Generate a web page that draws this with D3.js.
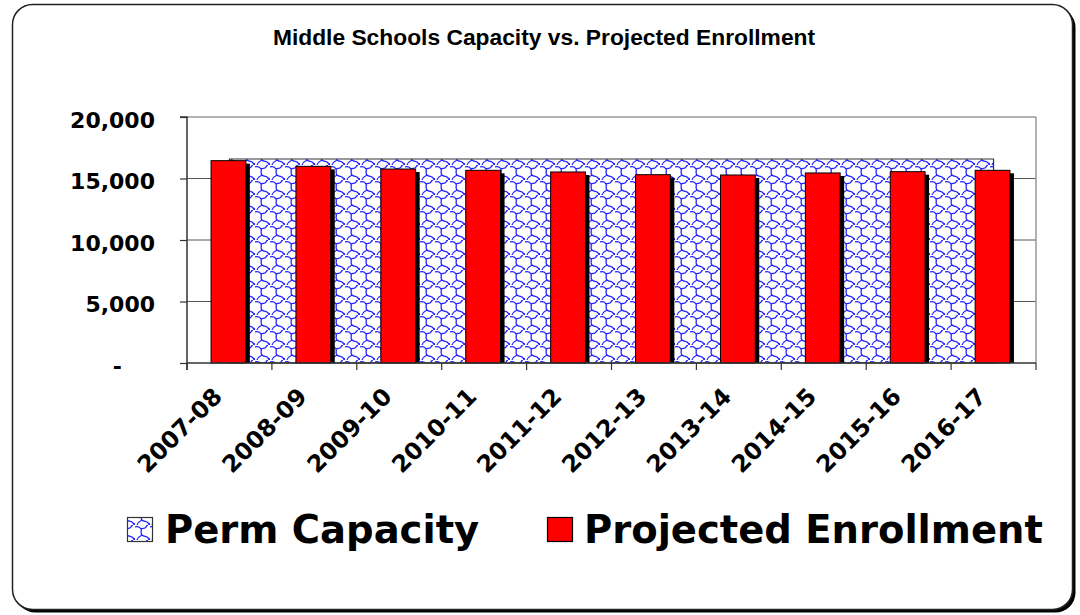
<!DOCTYPE html>
<html><head><meta charset="utf-8">
<script src="https://cdn.jsdelivr.net/npm/d3@7/dist/d3.min.js"></script>
<style>
html,body{margin:0;padding:0;background:#fff;}
svg{display:block;}
</style></head>
<body>
<svg id="chart" width="1080" height="615"></svg>
<script>
const categories = ["2007-08","2008-09","2009-10","2010-11","2011-12","2012-13","2013-14","2014-15","2015-16","2016-17"];
const permCapacity = [16585,16585,16585,16585,16585,16585,16585,16585,16585,16585];
const projectedEnrollment = [16450,15990,15770,15665,15530,15310,15285,15450,15555,15665];
const yTickValues = [0,5000,10000,15000,20000];
const yTickLabels = ["-","5,000","10,000","15,000","20,000"];
const seriesNames = ["Perm Capacity","Projected Enrollment"];
const titleText = "Middle Schools Capacity vs. Projected Enrollment";

const svg = d3.select("#chart");
const defs = svg.append("defs");

// shingle-like pattern
const pat = defs.append("pattern").attr("id","shingle").attr("patternUnits","userSpaceOnUse")
  .attr("width",15).attr("height",15);
pat.append("rect").attr("width",15).attr("height",15).attr("fill","#fff");
pat.append("path")
  .attr("d","M0,2 C3,1 5,2 6,4 C7,6 5,8 7,10 C9,12 12,11 13,13 C14,14 15,14 15,14 M6,4 C8,3 10,4 11,2 C11.5,1 12,0 13,0 M7,10 C5,11 3,12 2,15 M13,13 C14,15 15,15 15,15")
  .attr("fill","none").attr("stroke","#2222ff").attr("stroke-width",1.3);

// Frame with shadow
svg.append("rect").attr("x",15.5).attr("y",7.5).attr("width",1060).attr("height",605)
  .attr("rx",20).attr("fill","#000");
svg.append("rect").attr("x",12.5).attr("y",4.5).attr("width",1060).attr("height",605)
  .attr("rx",20).attr("fill","#fff").attr("stroke","#222").attr("stroke-width",1.5);

// Title
svg.append("text").attr("x",544).attr("y",45).attr("text-anchor","middle")
  .attr("font-family","Liberation Sans, Arial, sans-serif").attr("font-weight","bold")
  .attr("font-size",22.8).attr("fill","#000").text(titleText);

const L = 187, R = 1036, T = 117, B = 363;
const x = d3.scaleBand().domain(categories).range([L,R]).padding(0);
const y = d3.scaleLinear().domain([0,20000]).range([B,T]);

const g = svg.append("g");

// gridlines
g.selectAll("line.grid").data(yTickValues.filter(v=>v>0 && v<20000)).join("line")
  .attr("x1",L).attr("x2",R).attr("y1",d=>y(d)).attr("y2",d=>y(d))
  .attr("stroke","#555").attr("stroke-width",1);
// plot border top/right
g.append("line").attr("x1",L).attr("x2",R).attr("y1",T).attr("y2",T).attr("stroke","#999").attr("stroke-width",1.5);
g.append("line").attr("x1",R).attr("x2",R).attr("y1",T).attr("y2",B).attr("stroke","#999").attr("stroke-width",1.5);

// capacity area
const cx = c => x(c) + x.bandwidth()/2;
const area = d3.area().x((d,i)=>cx(categories[i])).y0(y(0)).y1(d=>y(d));
g.append("path").datum(permCapacity).attr("d",area)
  .attr("fill","url(#shingle)").attr("stroke","#333").attr("stroke-width",1.2);

// bars
const barW = x.bandwidth()*0.41;
const bx = c => cx(c) - barW/2 - 1;
g.selectAll("rect.shadow").data(projectedEnrollment).join("rect")
  .attr("x",(d,i)=>bx(categories[i])+4).attr("y",d=>y(d)+3)
  .attr("width",barW).attr("height",d=>y(0)-y(d)-3).attr("fill","#000");
g.selectAll("rect.bar").data(projectedEnrollment).join("rect")
  .attr("x",(d,i)=>bx(categories[i])).attr("y",d=>y(d))
  .attr("width",barW).attr("height",d=>y(0)-y(d))
  .attr("fill","#ff0000").attr("stroke","#000").attr("stroke-width",1);

// Y axis
const yAxis = d3.axisLeft(y).tickValues(yTickValues).tickSize(7)
  .tickFormat((d,i)=>yTickLabels[i]);
const ya = svg.append("g").attr("transform",`translate(${L},0)`).call(yAxis);
ya.select(".domain").attr("stroke","#333").attr("stroke-width",1.5).attr("d",`M-7,${T}H0V${B+7}`);
ya.selectAll(".tick line").attr("stroke","#333").attr("stroke-width",1.2);
ya.selectAll(".tick text").attr("font-family","DejaVu Sans, Verdana, sans-serif")
  .attr("font-weight","bold").attr("font-size",22).attr("fill","#000")
  .attr("x",-32).attr("dy","0.46em");
ya.selectAll(".tick text").filter(d=>d===0).attr("x",-65);

// X axis
const xAxis = d3.axisBottom(x).tickSize(0).tickFormat("");
const xa = svg.append("g").attr("transform",`translate(0,${B})`).call(xAxis);
xa.select(".domain").attr("stroke","#333").attr("stroke-width",1.5).attr("d",`M${L},0H${R}`);
xa.selectAll(".btick").data(categories.concat(["__end"])).join("line")
  .attr("x1",(d,i)=> i<categories.length ? x(d) : R)
  .attr("x2",(d,i)=> i<categories.length ? x(d) : R)
  .attr("y1",0).attr("y2",7).attr("stroke","#333").attr("stroke-width",1.2);
xa.selectAll("text.xl").data(categories).join("text")
  .attr("transform",d=>`translate(${cx(d)-6},35) rotate(-45)`)
  .attr("text-anchor","end")
  .attr("font-family","DejaVu Sans, Verdana, sans-serif").attr("font-weight","bold")
  .attr("font-size",23.5).attr("fill","#000").text(d=>d);

// Legend
const lg = svg.append("g");
lg.append("rect").attr("x",127.5).attr("y",517.5).attr("width",25).attr("height",24)
  .attr("fill","url(#shingle)").attr("stroke","#333").attr("stroke-width",1.2);
lg.append("text").attr("x",165).attr("y",543).attr("font-family","DejaVu Sans, Verdana, sans-serif")
  .attr("font-weight","bold").attr("font-size",38.5).attr("fill","#000").text(seriesNames[0]);
lg.append("rect").attr("x",547.5).attr("y",517.5).attr("width",25).attr("height",24)
  .attr("fill","#ff0000").attr("stroke","#000").attr("stroke-width",1.2);
lg.append("text").attr("x",584).attr("y",543).attr("font-family","DejaVu Sans, Verdana, sans-serif")
  .attr("font-weight","bold").attr("font-size",38.5).attr("fill","#000").text(seriesNames[1]);
</script>
</body></html>
